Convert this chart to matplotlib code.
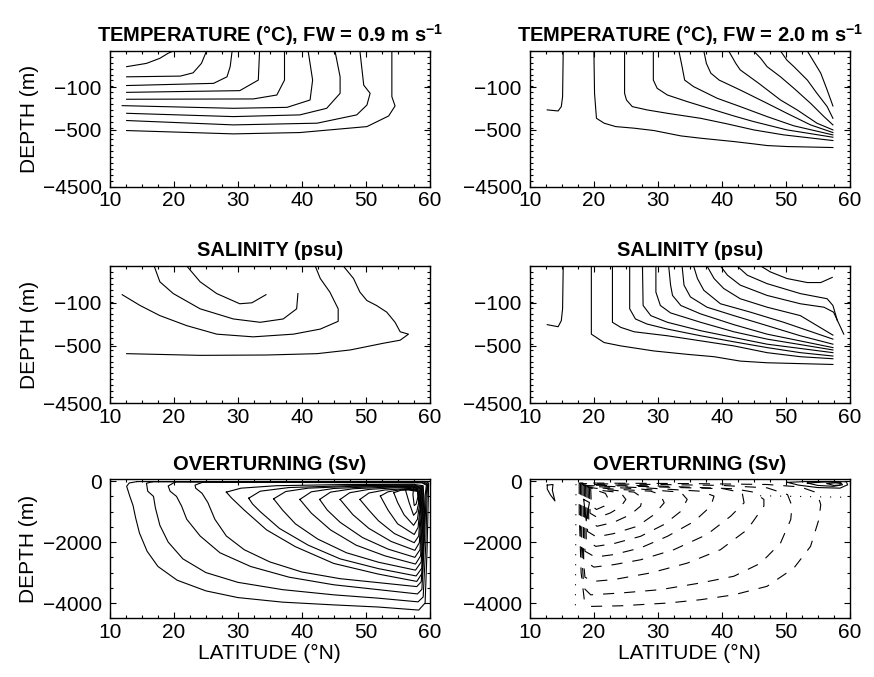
import numpy as np
import matplotlib
matplotlib.use("Agg")
import matplotlib.pyplot as plt
from matplotlib.ticker import FixedLocator, MultipleLocator

plt.rcParams["font.family"] = ["Liberation Sans", "DejaVu Sans"]
plt.rcParams["mathtext.fontset"] = "custom"
plt.rcParams["mathtext.rm"] = "Liberation Sans"
plt.rcParams["mathtext.bf"] = "Liberation Sans:bold"


# ============================================
# Data: contour lines, (latitude, depth in m)
# ============================================

# temperature, FW = 0.9
temp_09 = [
    [(12.6, -43), (15.7, -34), (17.8, -20), (19.1, -6), (19.9, 0)],
    [(12.6, -71), (21.0, -69), (23.0, -60), (24.3, -34), (25.1, 0)],
    [(12.6, -95), (26.2, -89), (28.3, -71), (28.8, -43), (29.1, 0)],
    [(12.6, -147), (30.3, -131), (33.2, -80), (33.4, 0)],
    [(12.6, -212), (32.4, -209), (36.1, -172), (37.3, -80), (37.3, 0)],
    [(11.9, -272), (29.3, -297), (37.7, -288), (41.3, -219), (41.7, -80), (41.0, 0)],
    [(12.6, -344), (29.3, -375), (39.7, -359), (43.9, -297), (46.0, -156),
     (46.0, -71), (45.2, 0)],
    [(12.6, -412), (29.3, -453), (42.4, -437), (48.6, -359), (50.2, -266),
     (50.7, -156), (49.7, -94), (49.1, 0)],
    [(12.6, -547), (29.3, -782), (39.7, -688), (50.2, -469), (53.6, -369),
     (54.6, -275), (54.1, -188), (54.1, 0)],
]

# temperature, FW = 2.0
temp_20 = [
    [(12.7, -312), (14.4, -322), (14.9, -281), (15.1, -188), (15.2, 0)],
    [(20.0, 0), (20.1, -156), (20.4, -391), (21.6, -437), (23.4, -469), (26.3, -484),
     (29.4, -547), (33.6, -924), (36.7, -1088), (41.9, -1324), (45.0, -1488),
     (47.1, -1606), (50.2, -1676), (57.4, -1747)],
    [(24.8, 0), (24.8, -156), (25.1, -219), (26.0, -281), (28.3, -312), (31.5, -344),
     (36.7, -391), (40.9, -444), (45.0, -500), (49.7, -853), (57.4, -1253)],
    [(29.3, 0), (29.3, -80), (29.9, -109), (31.5, -172), (34.6, -234), (38.8, -312),
     (41.9, -369), (45.0, -422), (50.2, -500), (57.4, -1018)],
    [(33.3, 0), (33.8, -43), (34.2, -80), (35.6, -98), (39.3, -203), (42.9, -281),
     (47.1, -375), (51.3, -462), (57.4, -853)],
    [(37.2, 0), (37.6, -34), (38.3, -61), (39.6, -80), (42.9, -125), (47.1, -250),
     (50.2, -344), (53.9, -453), (57.4, -688)],
    [(41.1, 0), (42.2, -34), (42.9, -52), (45.8, -89), (49.2, -219), (51.8, -312),
     (54.9, -437), (57.4, -500)],
    [(45.0, 0), (46.1, -20), (47.1, -43), (49.2, -71), (51.3, -109), (53.9, -250),
     (56.0, -375), (57.4, -453)],
    [(49.2, 0), (50.2, -25), (51.3, -43), (53.4, -80), (54.9, -156), (56.5, -281),
     (57.4, -391)],
    [(53.4, 0), (54.4, -29), (55.5, -61), (56.5, -125), (57.4, -275)],
]

# salinity, FW = 0.9
salt_09 = [
    [(22.0, 0), (24.1, -43), (26.7, -75), (30.3, -109), (32.2, -100), (34.4, -78)],
    [(16.9, 0), (17.8, -43), (19.9, -75), (24.1, -156), (29.3, -250), (33.5, -281),
     (37.1, -250), (39.2, -156), (39.4, -75)],
    [(11.9, -78), (14.7, -125), (17.8, -219), (22.0, -312), (26.7, -391), (32.4, -416),
     (38.7, -391), (42.9, -344), (45.7, -272), (45.7, -156), (44.4, -71),
     (42.9, -34), (42.1, 0)],
    [(12.6, -1041), (24.1, -1159), (34.5, -1135), (42.4, -1041), (47.6, -782),
     (50.2, -547), (52.8, -475), (55.4, -447), (56.7, -391), (55.4, -369),
     (54.6, -281), (53.3, -187), (51.7, -125), (50.2, -94), (49.1, -71),
     (48.1, -34), (46.5, 0)],
]

# salinity, FW = 2.0
salt_20 = [
    [(12.7, -303), (14.4, -322), (14.9, -266), (15.1, -156), (15.2, 0)],
    [(19.6, 0), (19.6, -391), (21.6, -469), (24.2, -500), (29.4, -853), (34.6, -1088),
     (38.8, -1253), (42.9, -1559), (47.1, -1676), (57.4, -1794)],
    [(22.9, 0), (22.9, -281), (24.2, -328), (26.3, -369), (31.5, -406), (36.7, -453),
     (41.9, -500), (47.1, -971), (52.3, -1253), (57.4, -1394)],
    [(25.6, 0), (25.6, -156), (26.5, -250), (28.3, -297), (31.5, -344), (36.7, -406),
     (41.9, -462), (47.1, -618), (52.3, -971), (57.4, -1206)],
    [(27.6, 0), (27.7, -125), (28.9, -219), (31.5, -281), (36.7, -359), (41.9, -422),
     (47.1, -484), (57.4, -971)],
    [(29.7, 0), (29.7, -71), (30.4, -125), (32.0, -194), (36.7, -281), (41.9, -369),
     (47.1, -437), (57.4, -782)],
    [(31.7, 0), (32.0, -52), (32.3, -80), (33.6, -125), (36.7, -203), (41.9, -303),
     (47.1, -391), (57.4, -618)],
    [(33.8, 0), (34.1, -52), (35.1, -84), (37.7, -141), (41.9, -219), (47.1, -312),
     (52.3, -406), (57.4, -484)],
    [(35.6, 0), (36.2, -34), (37.2, -66), (39.8, -109), (44.5, -187), (49.7, -281),
     (57.4, -437)],
    [(37.7, 0), (38.8, -34), (40.3, -61), (42.9, -89), (47.1, -141), (52.3, -219),
     (57.4, -400)],
    [(39.8, 0), (40.9, -25), (42.9, -52), (47.1, -80), (52.3, -109), (56.0, -141),
     (57.5, -187), (59.1, -391)],
    [(42.4, 0), (44.0, -25), (47.1, -48), (52.3, -75), (56.5, -89), (57.4, -125),
     (58.1, -266)],
    [(46.1, 0), (47.6, -16), (50.2, -34), (53.4, -45), (55.5, -45), (57.3, -31)],
]

# overturning streamfunction, FW = 0.9 (closed contours)
psi_09 = [
    [(14.2, -15), (13.0, -60), (12.6, -170), (13.1, -500), (13.6, -800), (14.0, -1200),
     (14.6, -1700), (15.8, -2300), (17.5, -2800), (20.5, -3250), (25.0, -3600),
     (30.0, -3820), (37.0, -3970), (45.0, -4060), (52.0, -4130), (58.3, -4230),
     (59.3, -4000), (59.6, -2300), (59.8, -600), (59.85, -60), (59.3, -10), (14.2, -15)],
    [(16.6, -20), (15.7, -70), (15.9, -330), (16.8, -500), (17.1, -880), (17.8, -1450),
     (19.1, -2000), (21.4, -2550), (25.0, -3000), (30.0, -3320), (37.0, -3560),
     (45.0, -3730), (52.0, -3840), (58.2, -3960), (59.0, -3800), (59.4, -2100),
     (59.6, -550), (59.7, -90), (59.1, -30), (16.6, -20)],
    [(20.2, -25), (19.1, -160), (19.4, -330), (20.4, -500), (21.2, -820), (22.0, -1250),
     (24.1, -1800), (27.2, -2350), (32.0, -2800), (38.0, -3150), (45.0, -3400),
     (52.0, -3560), (58.1, -3700), (58.8, -3550), (59.2, -1900), (59.45, -500),
     (59.6, -110), (58.9, -45), (20.2, -25)],
    [(24.5, -35), (23.3, -130), (23.4, -230), (24.4, -400), (25.3, -700), (26.4, -1250),
     (28.2, -1800), (31.0, -2250), (35.0, -2650), (40.0, -2980), (46.0, -3200),
     (52.0, -3330), (58.0, -3460), (58.7, -3300), (59.1, -1750), (59.3, -480),
     (59.5, -130), (58.8, -55), (24.5, -35)],
    [(28.2, -360), (30.5, -230), (36.0, -150), (47.0, -110), (57.5, -105), (59.0, -150),
     (59.2, -1000), (58.9, -3000), (58.0, -3290), (52.0, -3050), (45.0, -2700),
     (39.0, -2150), (34.5, -1600), (31.0, -950), (29.0, -550), (28.2, -360)],
    [(31.7, -560), (33.5, -330), (38.0, -210), (47.0, -150), (57.4, -130), (58.9, -180),
     (59.1, -1000), (58.8, -2850), (57.9, -3110), (52.0, -2870), (46.0, -2550),
     (41.0, -2100), (36.5, -1550), (33.5, -1000), (32.3, -750), (31.7, -560)],
    [(35.6, -580), (37.5, -340), (41.0, -230), (48.0, -170), (57.3, -150), (58.8, -200),
     (59.0, -1000), (58.7, -2650), (57.8, -2920), (52.0, -2660), (47.0, -2350),
     (42.5, -1900), (39.0, -1400), (37.0, -950), (35.6, -580)],
    [(39.7, -600), (41.5, -350), (45.0, -240), (51.0, -185), (57.2, -170), (58.7, -220),
     (58.9, -1000), (58.6, -2450), (57.8, -2720), (53.0, -2450), (48.5, -2100),
     (44.5, -1600), (41.5, -1050), (39.7, -600)],
    [(42.8, -600), (44.5, -360), (48.0, -250), (53.0, -200), (57.1, -190), (58.6, -240),
     (58.8, -1000), (58.5, -2250), (57.7, -2500), (53.5, -2230), (49.5, -1850),
     (46.0, -1350), (44.0, -950), (42.8, -600)],
    [(46.0, -600), (47.5, -380), (50.5, -270), (54.5, -220), (57.0, -210), (58.5, -260),
     (58.7, -1000), (58.4, -2020), (57.7, -2270), (54.0, -1980), (50.5, -1550),
     (48.0, -1100), (46.0, -600)],
    [(49.1, -600), (50.5, -390), (53.0, -290), (56.9, -240), (58.4, -290), (58.6, -900),
     (58.3, -1800), (57.6, -2020), (54.5, -1720), (52.0, -1300), (50.5, -950),
     (49.1, -600)],
    [(52.3, -490), (53.5, -350), (55.5, -280), (56.8, -270), (58.3, -320), (58.5, -900),
     (58.2, -1520), (57.6, -1750), (55.0, -1400), (53.5, -950), (52.3, -490)],
    [(54.4, -380), (55.5, -300), (56.7, -290), (58.2, -340), (58.4, -800), (58.1, -1250),
     (57.5, -1450), (56.0, -1100), (55.0, -700), (54.4, -380)],
    [(56.2, -270), (57.0, -260), (58.1, -300), (58.3, -700), (58.0, -1000), (57.5, -1120),
     (56.8, -700), (56.2, -270)],
    [(57.5, -190), (58.1, -230), (58.2, -500), (57.9, -750), (57.6, -800), (57.4, -450),
     (57.5, -190)],
]

# overturning streamfunction, FW = 2.0: negative cell (dashed)
psi_20_neg = [
    [(17.7, -60), (17.7, -1000), (18.0, -3000), (18.5, -3900), (19.5, -4110),
     (24.2, -4090), (31.5, -4000), (36.7, -3890), (41.9, -3730), (47.1, -3450),
     (51.3, -2850), (53.9, -2140), (55.2, -1260), (55.5, -770), (54.9, -380),
     (52.3, -190), (47.1, -110), (35.0, -80), (25.0, -70), (17.7, -60)],
    [(17.9, -80), (17.9, -1500), (18.4, -3500), (19.5, -3730), (24.2, -3670),
     (30.4, -3560), (36.7, -3340), (41.9, -3120), (46.1, -2690), (49.2, -2030),
     (50.8, -1260), (51.0, -820), (50.3, -440), (47.1, -220), (40.0, -140),
     (30.0, -110), (17.9, -80)],
    [(18.1, -100), (18.1, -2000), (18.6, -3150), (19.8, -3290), (23.1, -3230),
     (28.9, -3010), (34.6, -2690), (39.8, -2250), (44.0, -1590), (46.6, -820),
     (46.6, -600), (45.0, -360), (41.9, -250), (30.0, -160), (18.1, -100)],
    [(18.3, -120), (18.4, -2600), (20.0, -2820), (23.1, -2740), (27.3, -2580),
     (32.5, -2250), (37.7, -1750), (41.4, -1150), (43.5, -710), (43.2, -380),
     (40.3, -250), (30.0, -190), (18.3, -120)],
    [(18.5, -140), (18.6, -2300), (20.2, -2490), (23.1, -2410), (27.3, -2190),
     (31.5, -1810), (35.7, -1320), (38.3, -820), (38.8, -490), (36.7, -330),
     (28.0, -220), (18.5, -140)],
    [(18.7, -160), (18.8, -1950), (20.3, -2140), (23.1, -2050), (27.3, -1810),
     (31.0, -1420), (33.6, -990), (34.6, -600), (33.6, -360), (26.0, -240), (18.7, -160)],
    [(18.9, -180), (19.0, -1650), (20.4, -1830), (23.1, -1720), (26.8, -1480),
     (29.4, -1100), (31.0, -710), (30.4, -440), (28.9, -330), (23.0, -260), (18.9, -180)],
    [(19.1, -200), (19.2, -1320), (20.5, -1480), (23.1, -1350), (25.7, -1100),
     (27.3, -820), (27.6, -550), (26.3, -360), (22.0, -280), (19.1, -200)],
    [(19.3, -220), (19.4, -1050), (20.6, -1200), (22.6, -1040), (24.2, -840),
     (25.0, -600), (24.2, -380), (21.0, -300), (19.3, -220)],
    [(19.5, -240), (19.6, -800), (20.4, -930), (21.6, -820), (22.3, -600), (21.8, -400),
     (19.5, -240)],
]

# overturning, FW = 2.0: positive cells (solid)
psi_20_pos = [
    [(12.7, -130), (13.6, -110), (13.5, -300), (13.9, -650), (13.2, -450), (12.7, -260),
     (12.7, -130)],
    [(50.3, -40), (53.0, -15), (57.0, -10), (59.5, -20), (59.7, -120), (58.5, -230),
     (55.0, -210), (52.0, -130), (50.3, -40)],
    [(53.4, -60), (56.0, -30), (58.6, -40), (58.9, -120), (57.5, -170), (55.0, -140),
     (53.4, -60)],
    [(56.5, -80), (57.8, -55), (58.6, -75), (58.5, -130), (57.5, -140), (56.5, -80)],
    [(18.4, -600), (19.3, -700), (18.8, -1300), (18.4, -600)],
]

# overturning, FW = 2.0: near-zero contours (dotted)
psi_20_zero = [
    [(17.2, -100), (17.1, -4300)],
    [(46.0, -480), (59.7, -530)],
]

lat_ticks = [10, 20, 30, 40, 50, 60]
upper_depth_ticks = [-4500, -500, -100]
psi_depth_ticks = [-4000, -2000, 0]

# upper panels: depth axis is stretched near the surface (model levels)
level_depth = [0, 100, 500, 4500]
level_frac = [0, 0.268, 0.582, 1.0]


def fwd(d):
    return -np.interp(-np.asarray(d, float), level_depth, level_frac)


def inv(f):
    return -np.interp(-np.asarray(f, float), level_frac, level_depth)


def draw(ax, lines, **kw):
    for ln in lines:
        lat, dep = zip(*ln)
        ax.plot(lat, dep, color="k", lw=0.8, **kw)


def style(ax):
    ax.set_xlim(10, 60)
    ax.set_xticks(lat_ticks)
    ax.xaxis.set_minor_locator(MultipleLocator(2.5))
    ax.tick_params(which="both", direction="in", top=True, right=True,
                   labelsize=15, width=0.8)
    ax.tick_params(which="major", length=4)
    ax.tick_params(which="minor", length=2)
    ax.tick_params(axis="y", which="major", pad=6)
    for s in ax.spines.values():
        s.set_linewidth(1.0)


fig = plt.figure(figsize=(8.74, 6.77), dpi=100)

cols = [0.1259, 0.6064]
rows = [0.7245, 0.4043, 0.0867]
heights = [0.2001, 0.2028, 0.2053]
width = 0.3656

titles = [
    [r"TEMPERATURE (°C), FW = 0.9 m s$^{\mathbf{-1}}$",
     r"TEMPERATURE (°C), FW = 2.0 m s$^{\mathbf{-1}}$"],
    ["SALINITY (psu)", "SALINITY (psu)"],
    ["OVERTURNING (Sv)", "OVERTURNING (Sv)"],
]
upper_data = [[temp_09, temp_20], [salt_09, salt_20]]

for r in range(3):
    for c in range(2):
        ax = fig.add_axes([cols[c], rows[r], width, heights[r]])
        if r < 2:
            ax.set_yscale("function", functions=(fwd, inv))
            draw(ax, upper_data[r][c])
            ax.set_ylim(-4500, 0)
            ax.set_yticks(upper_depth_ticks)
            ax.set_yticklabels(["\u22124500", "\u2212500", "\u2212100"])
            ax.yaxis.set_minor_locator(FixedLocator(inv(-np.linspace(0, 1, 24))))
        else:
            if c == 0:
                draw(ax, psi_09)
            else:
                draw(ax, psi_20_neg, dashes=(10, 9))
                draw(ax, psi_20_pos)
                draw(ax, psi_20_zero, dashes=(1, 8))
            ax.set_ylim(-4500, 60)
            ax.set_yticks(psi_depth_ticks)
            ax.set_yticklabels(["\u22124000", "\u22122000", "0"])
            ax.yaxis.set_minor_locator(MultipleLocator(500))
            ax.set_xlabel("LATITUDE (°N)", fontsize=15, labelpad=1)
        style(ax)
        ax.set_title(titles[r][c], fontsize=14.5, fontweight="bold", pad=7)
        if c == 0:
            ax.set_ylabel("DEPTH (m)", fontsize=15, labelpad=3)

fig.savefig("out.png", dpi=100)
